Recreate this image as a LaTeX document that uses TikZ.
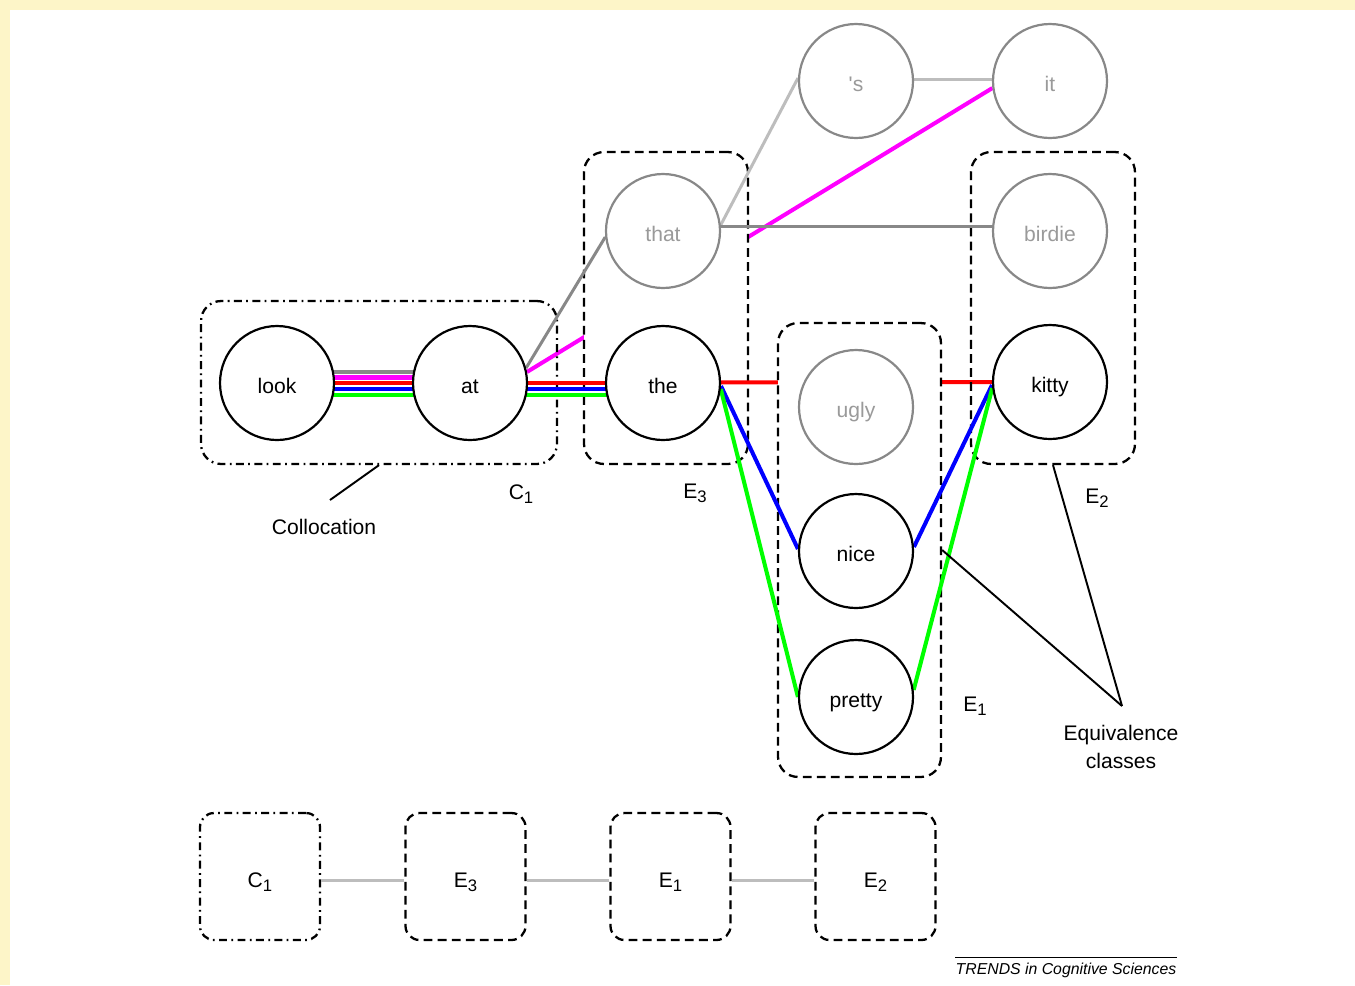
\documentclass[tikz,border=0pt]{standalone}
\usepackage{fontspec}
\setmainfont{Liberation Sans}
\newfontfamily\rawsans{Liberation Sans}
\usetikzlibrary{calc}
\definecolor{cream}{HTML}{FDF5C8}
\definecolor{gline}{HTML}{888888}
\definecolor{lgline}{HTML}{BDBDBD}
\definecolor{gtext}{HTML}{9A9A9A}
\definecolor{mag}{RGB}{255,0,255}
\definecolor{rd}{RGB}{255,0,0}
\definecolor{bl}{RGB}{0,0,255}
\definecolor{gr}{RGB}{0,255,0}
\newcommand\mysub[1]{\raisebox{-0.35ex}{\fontsize{9.5}{10}\selectfont #1}}
\pgfdeclarelayer{bg}
\pgfdeclarelayer{back}
\pgfdeclarelayer{midA}
\pgfdeclarelayer{backB}
\pgfdeclarelayer{midB}
\pgfdeclarelayer{lines}
\pgfsetlayers{bg,back,midA,backB,midB,lines,main}
\begin{document}
\begin{tikzpicture}[x=0.02cm,y=-0.02cm,
  word/.style={circle,draw=black,line width=1.25pt,fill=white,minimum size=2.28cm,inner sep=0pt,text height=12.4pt,text depth=0pt,font=\fontsize{12}{14}\selectfont},
  gword/.style={word,draw=gline,text=gtext},
  grp/.style={draw=black,line width=1.3pt,dash pattern=on 5pt off 3pt,rounded corners=0.4cm,inner sep=0pt},
  grpdd/.style={grp,dash pattern=on 4.5pt off 2.5pt on 1pt off 2.5pt},
  bbox/.style={minimum width=2.4cm,minimum height=2.54cm,rounded corners=0.28cm,text height=12.4pt,text depth=0pt,font=\fontsize{12}{14}\selectfont},
  lab/.style={font=\fontsize{12}{14}\selectfont,inner sep=0pt},
  cline/.style={line width=2.3pt},
  gl/.style={line width=1.7pt,draw=gline},
  lgl/.style={line width=1.7pt,draw=lgline},
  ptr/.style={line width=1.1pt},
]
\useasboundingbox (0,0) rectangle (1355,985);
\begin{pgfonlayer}{bg}
\fill[cream] (0,0) rectangle (1355,985);
\fill[white] (10,10) rectangle (1355,985);
\end{pgfonlayer}

% word circles
\node[word] (look) at (277,383) {look};
\node[word] (at) at (470,383) {at};
\node[word] (the) at (663,383) {the};
\node[gword] (that) at (663,231) {that};
\node[gword] (s) at (856,81) {\rawsans 's};
\node[gword] (it) at (1050,81) {it};
\node[gword] (birdie) at (1050,231) {birdie};
\node[gword] (ugly) at (856,407) {ugly};
\node[word] (nice) at (856,551) {nice};
\node[word] (pretty) at (856,697) {pretty};
\node[word] (kitty) at (1050,382) {kitty};

% group boxes
\begin{pgfonlayer}{midA}
\node[grp,fill=white,minimum width=3.28cm,minimum height=6.24cm] (E3g) at (666,308) {};
\end{pgfonlayer}
\begin{pgfonlayer}{midB}
\node[grp,fill=white,minimum width=3.26cm,minimum height=9.08cm] (E1g) at (859.5,550) {};
\node[grpdd,minimum width=7.12cm,minimum height=3.26cm] (C1g) at (379,382.5) {};
\node[grp,minimum width=3.28cm,minimum height=6.24cm] (E2g) at (1053,308) {};
\end{pgfonlayer}

% connectors hidden behind boxes
\begin{pgfonlayer}{back}
\draw[cline,mag] (at.11) -- (it.187);
\end{pgfonlayer}
\begin{pgfonlayer}{backB}
\draw[cline,rd] ($(the.center)+(0,-0.5)$) -- (kitty.center);
\end{pgfonlayer}

% other connectors
\begin{pgfonlayer}{lines}
\foreach \dy/\c in {-11/gline,-5.5/mag,0/rd,6/bl,12/gr}
  \draw[cline,draw=\c] ($(look.center)+(0,\dy)$) -- ($(at.center)+(0,\dy)$);
\foreach \dy/\c in {0/rd,6/bl,12/gr}
  \draw[cline,draw=\c] ($(at.center)+(0,\dy)$) -- ($(the.center)+(0,\dy)$);
\draw[gl] (at.15) -- (that.186);
\draw[lgl] (that.6) -- (s.177);
\draw[gl] ($(that.center)+(0,-5)$) -- ($(birdie.center)+(0,-5)$);
\draw[lgl] ($(s.center)+(0,-2)$) -- ($(it.center)+(0,-2)$);
\draw[cline,bl] (the.-3) -- (nice.178);
\draw[cline,gr] (the.-6) -- (pretty.180);
\draw[cline,bl] (nice.4) -- (kitty.183);
\draw[cline,gr] (pretty.7) -- (kitty.186);
\end{pgfonlayer}

% labels
\node[lab] (coll) at (324,527) {Collocation};
\coordinate (collt) at (330,500);
\draw[ptr] (collt) -- (C1g.south);
\node[lab] (c1lab) at (521,494) {C\mysub{1}};
\node[lab] (e3lab) at (695,493) {E\mysub{3}};
\node[lab] (e2lab) at (1097,498) {E\mysub{2}};
\node[lab] (e1lab) at (975,706) {E\mysub{1}};
\node[lab,align=center,font=\fontsize{12}{16}\selectfont] (eq) at (1121,747) {Equivalence\\classes};
\coordinate (eqp) at (1122,706);
\draw[ptr] (eqp) -- (E1g.east);
\draw[ptr] (eqp) -- (E2g.south);

% bottom sequence
\node[grpdd,bbox] (C1b) at (260,876.5) {C\mysub{1}};
\node[grp,bbox] (E3b) at (465.5,876.5) {E\mysub{3}};
\node[grp,bbox] (E1b) at (670.5,876.5) {E\mysub{1}};
\node[grp,bbox] (E2b) at (875.5,876.5) {E\mysub{2}};
\draw[lgl] ($(C1b.east)+(0,4)$) -- ($(E3b.west)+(0,4)$);
\draw[lgl] ($(E3b.east)+(0,4)$) -- ($(E1b.west)+(0,4)$);
\draw[lgl] ($(E1b.east)+(0,4)$) -- ($(E2b.west)+(0,4)$);

% footer
\node[font=\fontsize{9}{11}\selectfont\itshape,inner sep=0pt] (trends) at (1066,970) {TRENDS in Cognitive Sciences};
\draw[line width=0.6pt] ($(trends.north west)+(0,-5)$) -- ($(trends.north east)+(0,-5)$);
\end{tikzpicture}
\end{document}
